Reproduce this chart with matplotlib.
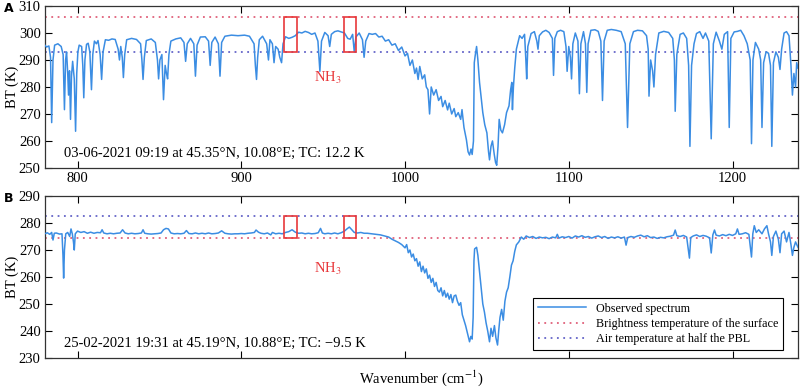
import numpy as np
import matplotlib

matplotlib.use('Agg')
import matplotlib.pyplot as plt
from matplotlib.patches import Rectangle

plt.rcParams['font.family'] = ['Liberation Serif', 'DejaVu Serif']
plt.rcParams['mathtext.fontset'] = 'stix'

# observed spectrum, panel A (wavenumber, BT)
spectrum_a = [
    (780, 295.5), (781, 294.8), (782.5, 295.2), (783.5, 291), (784.2, 266.8), (785, 290),
    (786, 295.5), (788, 296), (790, 295), (791.2, 292), (792, 271.6), (792.7, 290),
    (793.3, 293), (794, 285), (794.5, 277), (795.1, 286), (795.7, 268), (796.3, 284),
    (797, 289.5), (798, 283), (798.8, 263.6), (799.5, 285), (800.2, 293), (801, 295.5),
    (802.5, 295), (803.2, 288), (803.8, 276), (804.5, 290), (805.5, 295.8), (806.5, 296.2),
    (807.5, 293), (808.5, 279), (809.3, 292), (810.3, 297), (811.5, 296), (812.5, 297.2),
    (813.8, 292), (814.7, 282.8), (815.6, 293), (817, 297.5), (819, 297.3), (821, 297.8),
    (823, 297.6), (824.8, 294), (825.6, 290), (826.4, 295), (827.3, 291), (828, 283.5),
    (828.8, 292), (830, 297.5), (833, 298), (836, 297.6), (838.5, 296), (839.3, 290),
    (840, 282.8), (840.8, 291), (842, 297.2), (845, 297.8), (847.5, 296.5), (848.8, 290),
    (849.5, 283), (850.3, 290), (851.5, 292), (852.5, 275.3), (853.5, 288), (854.3, 285),
    (855, 283), (855.8, 292), (857, 297), (860, 297.8), (863, 298.2), (865, 296.5),
    (866, 289.5), (867, 296), (869, 298), (871, 296), (872, 284), (873, 295.5),
    (875, 298.5), (878, 298.6), (880, 297), (881, 288), (882, 296.5), (884, 298.5),
    (886, 296), (887, 284), (888, 296.5), (890, 298.8), (894, 299.2), (898, 299),
    (902, 299.2), (905, 298.8), (907.8, 296), (908.6, 288), (909.3, 282.8), (910, 291),
    (911, 297.5), (913, 298.8), (915.5, 296), (916.6, 290), (917.5, 297.5), (919, 296),
    (920, 289), (921, 295), (922.5, 294), (923.5, 291), (924.6, 289), (925.5, 296),
    (927, 298.6), (929, 298), (931, 298.4), (933, 299), (935, 300.3), (937, 300),
    (939, 300.6), (941, 300.2), (943, 299.5), (945, 300), (946.8, 297), (948, 285.8),
    (949, 297), (951, 300.2), (953, 299), (954, 295), (955, 299.5), (957, 300.5),
    (959, 300.8), (961, 300.4), (963, 300), (965, 298), (966.5, 297.7), (968, 299.5),
    (969, 293), (970, 298.5), (972, 300), (974, 297.5), (975, 291), (976, 297),
    (978, 299.8), (980, 299.5), (982, 299.8), (984, 298.5), (986, 298.8), (988, 297),
    (990, 297.5), (992, 295.5), (994, 296), (996, 293.5), (998, 294.8), (1000, 291.5),
    (1001.5, 292.5), (1003, 288), (1004.5, 290), (1006, 285), (1007, 287), (1008, 282.8),
    (1009, 287.6), (1010.5, 283), (1012, 284.5), (1013, 280), (1014, 279), (1015, 270),
    (1016, 280), (1017.5, 277), (1019, 279), (1020.5, 275), (1022, 276.5), (1023, 272.7),
    (1024.5, 275), (1026, 271.5), (1027, 274), (1028.5, 270), (1030, 272), (1031, 269),
    (1032.5, 270.5), (1034, 268), (1034.8, 271.6), (1036, 265), (1037.5, 260.4), (1038.5, 256),
    (1039.4, 254.8), (1040.3, 257), (1041, 255), (1041.8, 260), (1042.3, 289), (1042.8, 291.4),
    (1043.7, 295), (1044.5, 290), (1045.5, 281.7), (1046.5, 276), (1047.5, 270.5), (1048.7, 266),
    (1050, 263), (1051, 256), (1051.6, 253), (1052.5, 258), (1053.4, 260), (1054.5, 255),
    (1055.3, 252), (1056, 251), (1056.8, 258), (1057.5, 268), (1058.5, 264), (1059.5, 263),
    (1060.8, 266), (1062, 270.5), (1063.5, 273), (1064.5, 279), (1065.2, 281.7), (1065.6, 271.6),
    (1066.2, 280), (1067, 287), (1068, 294), (1069, 296.5), (1070, 299), (1071.5, 298),
    (1073, 299.5), (1073.8, 290), (1074.3, 283), (1075, 295), (1077, 299.8), (1079, 300.5),
    (1080.5, 297), (1081.2, 294), (1082, 299), (1084, 300.4), (1086, 301), (1088, 300.2),
    (1090, 298), (1090.7, 284.3), (1091.5, 298), (1093, 300.5), (1095, 301), (1097, 300.5),
    (1098.3, 295), (1099, 285.8), (1100, 295), (1101, 291), (1101.7, 283), (1102.5, 296),
    (1104, 300), (1105.6, 297), (1106.5, 277.5), (1107.4, 296), (1109, 300.5), (1110.2, 296),
    (1111, 278), (1111.8, 296), (1113.5, 301), (1116, 301.2), (1118, 300.6), (1119.6, 297),
    (1120.6, 275), (1121.6, 297), (1123.5, 301), (1126, 301.3), (1129, 301), (1132, 300.5),
    (1134.5, 296), (1135.9, 265), (1137.3, 296), (1139.5, 300.5), (1142, 301), (1145, 300.8),
    (1147.5, 299), (1148.5, 294), (1149, 276.6), (1150, 290), (1151.2, 286), (1152, 280),
    (1153, 292), (1155, 300), (1158, 300.6), (1161, 300.2), (1163.5, 298), (1164.5, 290),
    (1165, 271), (1166, 292), (1168, 299.5), (1170, 300), (1172, 298), (1173.2, 288),
    (1174, 258), (1175, 288), (1176.5, 296), (1178, 299.8), (1180, 300.5), (1182, 298),
    (1183.5, 300), (1185.5, 297), (1187, 260.8), (1188.3, 296), (1190, 300.3), (1192, 297),
    (1193.5, 294), (1195, 299.5), (1197, 300.5), (1198, 265), (1199, 298), (1201, 300.4),
    (1203, 300.6), (1205, 301), (1207, 299), (1209, 296), (1210.8, 290), (1211.6, 259),
    (1212.5, 290), (1214, 296.5), (1216, 294), (1217.2, 290), (1218, 265), (1219, 289),
    (1220.5, 293), (1222, 292.5), (1223.2, 288), (1224, 258), (1225, 289), (1226.5, 293),
    (1228, 291), (1229, 286.5), (1230, 294), (1231.5, 300), (1233, 300.5), (1234.5, 299),
    (1235.7, 288), (1236.6, 277), (1237.5, 285), (1238.5, 280), (1239.2, 289), (1240, 287),
]

# observed spectrum, panel B
spectrum_b = [
    (780, 276), (781.5, 276.4), (783, 275.8), (784.2, 276.5), (785, 273.7), (785.8, 276.2),
    (787, 276.3), (789, 275.9), (790.5, 276), (791.1, 268), (791.5, 259.6), (792, 270),
    (792.8, 276), (794, 276.5), (795.2, 275), (796, 277.8), (796.8, 276), (797.5, 273),
    (798, 270), (798.6, 276), (800, 277), (802, 276.5), (804, 276.8), (806, 276.2),
    (808, 276.6), (810, 276.2), (812, 276.5), (814, 276.4), (815, 277.5), (816, 276.3),
    (818, 276), (820, 276.2), (822, 276), (824, 276.2), (826, 276.3), (827.5, 277.5),
    (829, 276.3), (831, 276), (833, 276.2), (835, 276), (837, 276.1), (839, 276.3),
    (840, 277.5), (841, 276.2), (843, 276), (845, 275.9), (847, 276), (849, 276.1),
    (851, 276.3), (852.5, 277.5), (854, 278), (855.5, 277.8), (857, 276.3), (859, 276),
    (861, 276.1), (863, 276), (865, 276.2), (866.5, 277.2), (868, 276.1), (870, 276),
    (872, 276.3), (874, 276), (876, 276.2), (878, 276), (880, 276.3), (882, 276),
    (884, 276.1), (886, 276.3), (888, 277.1), (890, 276.2), (892, 276), (894, 275.9),
    (896, 276), (898, 276), (900, 276.1), (902, 276), (904, 276.2), (906, 276.3),
    (908, 276.5), (909, 277.4), (910.5, 276.6), (912, 276.2), (914, 276), (916, 276.3),
    (918, 275.6), (919, 276.5), (921, 276), (923, 276.2), (925, 276), (927, 276.5),
    (929, 276.8), (931, 277.5), (933, 276.6), (935, 276.2), (937, 276.3), (939, 276),
    (941, 276.2), (943, 276), (945, 276.1), (947, 276.4), (948.4, 278), (949.5, 276.3),
    (951, 276), (953, 276.2), (955, 276), (957, 276.3), (959, 276), (961, 276.4),
    (963, 277), (964.5, 277.8), (966, 278.5), (967.5, 277.5), (969, 276.5), (971, 276.3),
    (973, 276.5), (975, 276.2), (977, 276.2), (979.5, 276), (982, 275.8), (985, 275.6),
    (987.5, 275.2), (990, 274.8), (992, 274), (994, 273.4), (996, 272.8), (998, 272),
    (1000, 270.8), (1001, 272), (1002, 269), (1003, 270), (1004, 267.4), (1005, 268.5),
    (1006, 266), (1007, 266.8), (1008, 264), (1009, 265.6), (1010, 262), (1011, 264),
    (1012, 261.5), (1013, 263), (1014, 259.5), (1015, 260.7), (1016, 258), (1017, 259.5),
    (1018, 256.5), (1019, 258), (1020, 255), (1021, 254.4), (1022, 256), (1023, 253),
    (1024, 255), (1025, 252.5), (1026, 254), (1027, 251.8), (1028, 253.5), (1029, 250.5),
    (1030, 253), (1031, 253.3), (1032, 251), (1033, 249.5), (1034, 250.5), (1035, 246),
    (1036, 244), (1037, 242), (1038, 239.5), (1039, 237), (1039.4, 236), (1040.2, 238),
    (1041, 237), (1041.6, 245), (1042.1, 266), (1042.5, 270.4), (1043.7, 271), (1044.5, 268),
    (1045.5, 262), (1046.5, 256), (1047.5, 250), (1048.5, 247), (1049.5, 243), (1050.5, 240),
    (1051.6, 236), (1052.5, 241), (1053.5, 238), (1054.6, 242), (1055.5, 237.5), (1056.5, 234.8),
    (1057.2, 240), (1058, 245), (1059, 248), (1060, 244), (1061, 251), (1062, 254.4),
    (1063, 256), (1064, 260), (1065, 264.4), (1066, 266), (1067, 269.5), (1068, 271.9),
    (1069.5, 273), (1071, 274.8), (1072.5, 274), (1074, 275.2), (1076, 274.6), (1078, 275),
    (1080, 274.3), (1082, 274.8), (1084, 274.5), (1086, 274.7), (1088, 274.2), (1090, 274.8),
    (1092, 274.5), (1093, 275.8), (1094, 274.4), (1096, 274.9), (1098, 274.6), (1100, 275),
    (1102, 274.4), (1104, 275.2), (1106, 274.8), (1108, 275.3), (1110, 274.7), (1112, 275),
    (1114, 274.4), (1116, 274.9), (1118, 275.2), (1120, 274.6), (1122, 275), (1124, 274.3),
    (1126, 274.8), (1128, 274.5), (1130, 274.9), (1132, 274.4), (1134, 274.8), (1135, 271.8),
    (1136, 274.6), (1138, 275), (1140, 274.7), (1142, 275.2), (1144, 275.5), (1146, 274.9),
    (1148, 275.3), (1150, 274.6), (1152, 274.8), (1154, 274.3), (1156, 274.7), (1158, 274.5),
    (1160, 274.9), (1162, 275.1), (1164, 275.5), (1165, 277.4), (1166, 275.3), (1168, 275),
    (1170, 275.4), (1172, 274.8), (1173.7, 267), (1174.5, 274.6), (1176, 275.2), (1178, 275.6),
    (1180, 275), (1182, 275.4), (1184, 275.1), (1186, 274.5), (1187, 268.9), (1188, 275.6),
    (1189, 277.4), (1190, 275.5), (1192, 275.2), (1194, 275.7), (1196, 275.3), (1198, 275.8),
    (1200, 275.4), (1202, 276), (1203, 277.8), (1204, 275.8), (1206, 276), (1208, 276.4),
    (1210, 275.8), (1211.6, 267.4), (1212.4, 276), (1213.3, 279), (1214.5, 276.5), (1216, 277.5),
    (1218, 276), (1219.5, 277.8), (1221, 279), (1222, 276), (1223.2, 273), (1224, 268),
    (1225, 275), (1226.5, 277), (1228, 274), (1229, 269), (1230, 276), (1231.5, 277),
    (1233, 273), (1234.5, 276.5), (1235.7, 272), (1236.6, 268), (1237.5, 271), (1238.5, 273),
    (1240, 271),
]

surface_bt = [306.0, 274.5]      # brightness temperature of the surface, A and B
air_t = [293.0, 282.5]           # air temperature at half the PBL, A and B
ylims = [(250, 310), (230, 290)]
nh3_boxes = [(926, 934), (963, 970)]
nh3_label_y = [283.5, 263.0]
captions = ['03-06-2021 09:19 at 45.35°N, 10.08°E; TC: 12.2 K',
            '25-02-2021 19:31 at 45.19°N, 10.88°E; TC: \u22129.5 K']
panel_names = ['A', 'B']

spec_color = '#3b8de3'
surf_color = '#e0607a'
air_color = '#6464c8'
box_color = '#e8383b'

fig = plt.figure(figsize=(8, 3.87), dpi=100)
ax_a = fig.add_axes([0.056, 0.566, 0.9415, 0.4185])
ax_b = fig.add_axes([0.056, 0.075, 0.9415, 0.4185])

for i, (ax, spec) in enumerate(zip([ax_a, ax_b], [spectrum_a, spectrum_b])):
    wn = np.array([p[0] for p in spec])
    bt = np.array([p[1] for p in spec])
    ax.plot(wn, bt, color=spec_color, lw=1.1, label='Observed spectrum', zorder=3)
    ax.axhline(surface_bt[i], color=surf_color, ls=(0, (1, 2.5)), lw=1.3,
               label='Brightness temperature of the surface', zorder=2)
    ax.axhline(air_t[i], color=air_color, ls=(0, (1, 2.5)), lw=1.3,
               label='Air temperature at half the PBL', zorder=2)
    lo, hi = sorted([surface_bt[i], air_t[i]])
    for x0, x1 in nh3_boxes:
        ax.add_patch(Rectangle((x0, lo), x1 - x0, hi - lo, fill=False,
                               ec=box_color, lw=1.2, zorder=4))
    ax.text(953, nh3_label_y[i], 'NH$_3$', color=box_color, fontsize=10.5,
            ha='center', va='center')
    ax.text(792, ylims[i][0] + 5.5, captions[i], fontsize=10.5, va='center')
    ax.set_xlim(780, 1240)
    ax.set_ylim(*ylims[i])
    ax.set_yticks(np.arange(ylims[i][0], ylims[i][1] + 1, 10))
    ax.set_xticks([800, 900, 1000, 1100, 1200])
    ax.tick_params(direction='in', top=True, right=True, length=5, labelsize=10.5, pad=3)
    ax.set_ylabel('BT (K)', fontsize=10.5)
    ax.yaxis.set_label_coords(-0.034, 0.5)
    for s in ax.spines.values():
        s.set_linewidth(0.9)
        s.set_color('#333333')
    fig.text(0.005, 0.977 - i * 0.4905, panel_names[i], fontsize=9, fontweight='bold',
             family='DejaVu Sans', va='center')

ax_b.set_xticklabels([])
ax_b.set_xlabel('Wavenumber (cm$^{-1}$)', fontsize=10.5, va='center')
ax_b.xaxis.set_label_coords(0.5, -0.125)
leg = ax_b.legend(loc='lower right', bbox_to_anchor=(0.98, 0.049), borderaxespad=0,
                  fontsize=8.7, handlelength=4.0, fancybox=False, framealpha=1,
                  edgecolor='black', borderpad=0.38, labelspacing=0.28)
leg.get_frame().set_linewidth(0.8)

fig.savefig('out.png', dpi=100)
